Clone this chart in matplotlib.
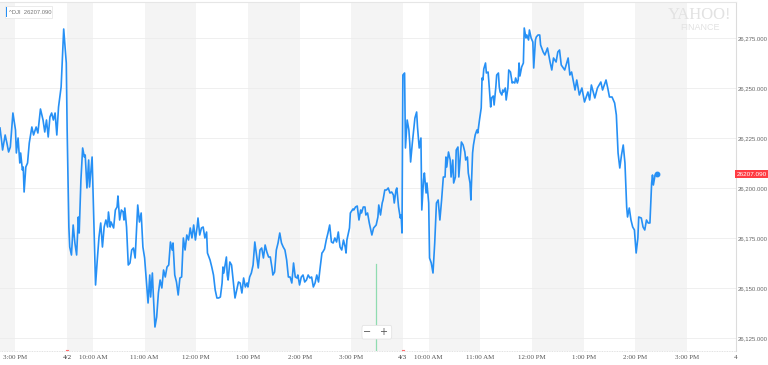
import matplotlib
matplotlib.use('Agg')
import matplotlib.pyplot as plt
from matplotlib.patches import Rectangle, FancyBboxPatch

# minutes of trading time, 0 = 4/2 9:30 open, 390 = 4/3 open
minutes = [-78, -76, -75, -72, -70, -68, -66, -63, -60, -59, -57, -55, -54, -52, -51, -50,
           -48, -46, -44, -41, -39, -36, -34, -31, -28, -26, -24, -22, -20, -18, -16, -14,
           -12, -10, -7, -4, -2, -1, 0, 2, 3, 5, 7, 9, 11, 13, 14, 16, 18, 20, 21, 23, 25,
           26, 28, 29, 31, 33, 35, 37, 39, 41, 43, 45, 47, 48, 50, 51, 54, 56, 58, 59, 61,
           63, 65, 66, 67, 69, 71, 73, 75, 77, 79, 80, 82, 84, 86, 88, 90, 92, 94, 96, 97,
           99, 100, 102, 104, 106, 108, 110, 112, 114, 116, 118, 120, 122, 123, 125, 127,
           129, 131, 133, 135, 137, 139, 141, 143, 145, 147, 149, 151, 152, 154, 156, 158,
           160, 162, 163, 166, 168, 170, 172, 174, 176, 178, 180, 181, 182, 185, 186, 187,
           189, 191, 193, 195, 197, 199, 201, 203, 205, 207, 209, 210, 212, 214, 216, 218,
           220, 222, 224, 226, 228, 230, 232, 234, 236, 238, 239, 241, 243, 245, 247, 249,
           251, 253, 255, 257, 259, 261, 263, 265, 267, 268, 270, 272, 274, 276, 278, 280,
           282, 284, 286, 288, 290, 292, 294, 296, 297, 299, 301, 303, 305, 307, 309, 311,
           313, 315, 317, 319, 321, 323, 324, 325, 328, 329, 332, 333, 335, 337, 339, 341,
           342, 344, 346, 347, 349, 351, 354, 356, 357, 359, 361, 362, 364, 366, 367, 369,
           371, 373, 375, 377, 379, 380, 382, 383, 385, 387, 388, 389, 390, 392, 393, 395,
           397, 398, 399, 401, 403, 404, 406, 407, 409, 411, 412, 414, 415, 417, 418, 420,
           421, 423, 425, 427, 429, 431, 433, 435, 437, 439, 440, 441, 443, 445, 446, 448,
           449, 451, 452, 454, 455, 457, 458, 460, 462, 463, 465, 466, 468, 469, 471, 472,
           474, 476, 477, 479, 481, 482, 483, 484, 486, 487, 489, 490, 492, 493, 495, 496,
           498, 499, 501, 502, 503, 505, 506, 507, 509, 510, 512, 513, 515, 517, 518, 520,
           521, 523, 524, 525, 526, 528, 530, 531, 533, 534, 536, 537, 539, 541, 542, 544,
           545, 547, 549, 550, 553, 555, 558, 561, 563, 565, 568, 570, 572, 574, 578, 582,
           584, 586, 590, 592, 595, 598, 601, 605, 607, 609, 613, 616, 620, 622, 624, 626,
           628, 630, 633, 636, 638, 639, 640, 642, 644, 646, 648, 650, 651, 653, 655, 657,
           659, 661, 663, 664, 667, 669, 671, 673, 675, 677, 679, 680, 681, 683, 685]

prices = [26230, 26223, 26219, 26226.5, 26222.5, 26218, 26220.5, 26237.5, 26229, 26217.5,
          26225, 26212.5, 26217.5, 26209, 26210.5, 26198, 26210.5, 26212.5, 26222.5, 26230.5,
          26226.5, 26230.5, 26227.5, 26239.5, 26234, 26228, 26234, 26225.5, 26235.5, 26237.5,
          26234, 26237.5, 26226.5, 26240.5, 26250.5, 26279.5, 26268, 26262.5, 26229, 26180.5,
          26170.5, 26166.5, 26181.5, 26172.5, 26166.5, 26185.5, 26177.5, 26204, 26220, 26215.5,
          26216.5, 26200, 26214, 26200.5, 26210.5, 26215.5, 26184, 26151.5, 26164, 26175.5,
          26182.5, 26170.5, 26180.5, 26184, 26180.5, 26188, 26180.5, 26183, 26180, 26189,
          26190.5, 26196, 26184, 26189, 26188, 26184, 26190, 26180.5, 26161.5, 26162.5,
          26169, 26170, 26165, 26174, 26191.5, 26183, 26187.5, 26170.5, 26165, 26154,
          26142.5, 26156.5, 26145.5, 26157.5, 26147.5, 26130.5, 26135.5, 26147.5, 26154, 26150,
          26159, 26155.5, 26160.5, 26161.5, 26173, 26169, 26172.5, 26156.5, 26153, 26146.5,
          26155, 26155.5, 26175, 26169, 26176.5, 26174, 26180, 26175, 26181.5, 26174,
          26180.5, 26185, 26176.5, 26180, 26180.5, 26175, 26178, 26167.5, 26164, 26160.5,
          26156.5, 26149, 26145, 26145, 26145.5, 26152.5, 26160.5, 26157.5, 26165.5, 26156.5,
          26154, 26163, 26161.5, 26153, 26145, 26149, 26153, 26152.5, 26147.5, 26155,
          26150.5, 26152.5, 26150.5, 26155.5, 26157.5, 26161.5, 26173, 26166.5, 26160, 26169,
          26170, 26165, 26171.5, 26168, 26165.5, 26165.5, 26160, 26156.5, 26158, 26169,
          26172.5, 26177.5, 26172.5, 26170.5, 26169, 26164, 26155.5, 26155.5, 26152.5, 26162.5,
          26155.5, 26155, 26156.5, 26151.5, 26155.5, 26156.5, 26153, 26154, 26156.5, 26155,
          26155.5, 26150.5, 26152.5, 26156.5, 26153, 26160.5, 26167.5, 26168, 26169.5, 26174,
          26177.5, 26181.5, 26173, 26172.5, 26175, 26173, 26178, 26170.5, 26169, 26174,
          26170.5, 26167.5, 26174, 26180, 26187.5, 26189.5, 26189, 26190.5, 26191, 26184,
          26189, 26187.5, 26190.5, 26190.5, 26186.5, 26187.5, 26182.5, 26176.5, 26180, 26180.5,
          26181.5, 26185.5, 26191.5, 26186.5, 26192.5, 26194, 26199, 26199, 26200, 26197.5,
          26198, 26196.5, 26192.5, 26199, 26200, 26190.5, 26185, 26186.5, 26177.5, 26256.5,
          26257.5, 26220, 26234, 26229, 26222.5, 26213, 26222.5, 26230.5, 26235, 26238,
          26230.5, 26220, 26225, 26189, 26204, 26207.5, 26197.5, 26202.5, 26192.5, 26165,
          26162.5, 26157.5, 26172.5, 26192.5, 26194, 26184, 26194, 26205.5, 26205.5, 26215.5,
          26210.5, 26218, 26214, 26205.5, 26214, 26202.5, 26205.5, 26219, 26220.5, 26205.5,
          26217.5, 26223, 26221.5, 26218, 26214, 26215.5, 26207.5, 26202.5, 26194, 26217.5,
          26221.5, 26226.5, 26229, 26227.5, 26234, 26240, 26255, 26254, 26259.5, 26262.5,
          26257.5, 26258, 26252.5, 26240.5, 26245, 26246, 26241.5, 26250.5, 26256.5, 26257.5,
          26250.5, 26248, 26246.5, 26249, 26248, 26250, 26244, 26250, 26259, 26258,
          26252.5, 26253, 26252.5, 26255, 26252.5, 26254, 26262.5, 26256, 26260.5, 26262.5,
          26280, 26275, 26276.5, 26274, 26279, 26275, 26273, 26260, 26274, 26275.5,
          26276.5, 26276.5, 26271.5, 26268, 26266.5, 26270, 26263, 26259, 26265, 26263,
          26268, 26269, 26261.5, 26259, 26265, 26256.5, 26258, 26249, 26254, 26246.5,
          26250, 26243, 26248, 26244, 26251.5, 26245, 26250, 26253, 26249, 26251.5,
          26254, 26250, 26245.5, 26245.5, 26242.5, 26236.5, 26226.5, 26217.5, 26210, 26216.5,
          26221.5, 26212.5, 26190.5, 26185.5, 26190, 26184, 26180.5, 26179, 26167.5, 26175,
          26185.5, 26185, 26180.5, 26179, 26184, 26182.5, 26182.5, 26202.5, 26206.5, 26201.5,
          26206.5, 26207]

last_price = 26207.090

tick_pos = [-60, 0, 30, 90, 150, 210, 270, 330, 390, 420, 480, 540, 600, 660, 720]
tick_labels = ['3:00 PM', '4/2', '10:00 AM', '11:00 AM', '12:00 PM', '1:00 PM', '2:00 PM',
               '3:00 PM', '4/3', '10:00 AM', '11:00 AM', '12:00 PM', '1:00 PM', '2:00 PM',
               '3:00 PM']
y_ticks = [26125, 26150, 26175, 26200, 26225, 26250, 26275]

x_min, x_max = -78, 777
y_min, y_max = 26118.5, 26293

fig = plt.figure(figsize=(7.68, 3.65), dpi=100)
ax = fig.add_axes([0, 14 / 365, 736 / 768, 349 / 365])
ax.set_xlim(x_min, x_max)
ax.set_ylim(y_min, y_max)

# alternating gray hour bands between the ticks
edges = [x_min] + tick_pos + [780]
for i in range(len(edges) - 1):
    if i % 2 == 0:
        ax.axvspan(edges[i], edges[i + 1], color='#f4f4f4', lw=0, zorder=0)

for y in y_ticks:
    ax.axhline(y, color='#ececec', lw=0.6, zorder=1)

line_color = '#2690f5'
ax.plot(minutes, prices, color=line_color, lw=1.2, zorder=3, solid_joinstyle='round')
ax.plot(minutes[-1], prices[-1], 'o', color=line_color, ms=3.2, zorder=4)

# axes styling
for side in ['left', 'bottom']:
    ax.spines[side].set_visible(False)
ax.spines['top'].set_color('#e6e6e6')
ax.spines['right'].set_color('#dcdcdc')
ax.spines['top'].set_linewidth(0.8)
ax.spines['right'].set_linewidth(0.8)
ax.plot([x_min, x_max], [y_min, y_min], color='#d8d8d8', lw=0.6, ls=(0, (1, 1)), zorder=2,
        clip_on=False)

ax.yaxis.tick_right()
ax.set_yticks(y_ticks)
ax.set_yticklabels(['{:,.3f}'.format(v) for v in y_ticks], fontsize=4.3, color='#666666',
                   family='Liberation Sans')
ax.tick_params(axis='y', length=0, pad=1.5)

ax.set_xticks(tick_pos)
ax.set_xticklabels(tick_labels, fontsize=5, color='#555555', family='Liberation Serif')
ax.tick_params(axis='x', length=0, pad=3)
for lbl in ax.get_xticklabels():
    if '/' in lbl.get_text():
        lbl.set_color('#333333')
ax.annotate('4', xy=(776, y_min), xytext=(0, -3), textcoords='offset points',
            fontsize=5, color='#555555', family='Liberation Serif', ha='center', va='top',
            annotation_clip=False)

# small red day markers on the bottom axis
for d in [0, 390]:
    ax.plot([d - 1.5, d + 1.5], [y_min + 0.4, y_min + 0.4], color='#ff6b6b', lw=0.8,
            clip_on=False, zorder=3)

# current price tag on the right axis
fig.text(736 / 768 + 0.001, 1 - 174 / 365, '26207.090', fontsize=4.6, color='white',
         family='Liberation Sans', va='center', ha='left',
         bbox=dict(boxstyle='square,pad=0.3', fc='#ff3b43', ec='none'))

# crosshair line and zoom buttons
ax.plot([358.7, 358.7], [26162, y_min], color='#8fdcb0', lw=0.9, zorder=2)
ax.add_patch(FancyBboxPatch((342.5, 26124.5), 34.5, 6.8, boxstyle='round,pad=0,rounding_size=1.5',
                            fc='white', ec='#e3e3e3', lw=0.6, zorder=5))
ax.text(348.5, 26128, '\u2212', fontsize=7, color='#555555', ha='center', va='center', zorder=6)
ax.text(367, 26128, '+', fontsize=7, color='#555555', ha='center', va='center', zorder=6)

# legend box top left
fig.patches.append(Rectangle((5 / 768, 1 - 18 / 365), 47 / 768, 12 / 365,
                             transform=fig.transFigure, fc='white', ec='#e8e8e8', lw=0.6))
fig.patches.append(Rectangle((5.5 / 768, 1 - 17 / 365), 1.5 / 768, 10 / 365,
                             transform=fig.transFigure, fc=line_color, ec='none'))
fig.text(9 / 768, 1 - 12 / 365, '^DJI  26207.090', fontsize=4.2, color='#777777',
         family='Liberation Sans', va='center', ha='left')

# watermark
fig.text(700 / 768, 1 - 15 / 365, 'YAHOO!', fontsize=12, color='#e2e2e2',
         family='Liberation Serif', ha='center', va='center')
fig.text(700 / 768, 1 - 28 / 365, 'FINANCE', fontsize=6.5, color='#e2e2e2',
         family='Liberation Sans', ha='center', va='center')

plt.savefig('out.png', dpi=100)
